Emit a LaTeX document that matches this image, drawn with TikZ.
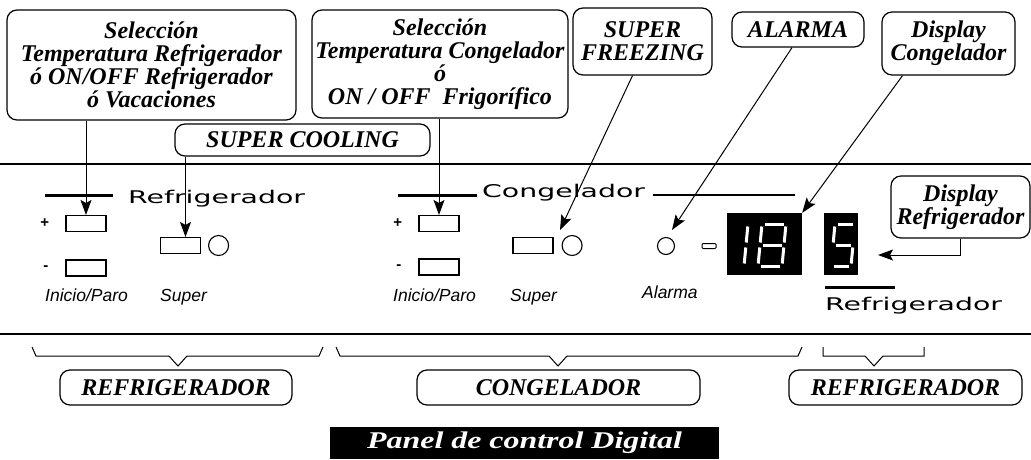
\documentclass[tikz,border=0pt]{standalone}
\usepackage{fontspec}
\usepackage{graphicx}
\setmainfont{Liberation Serif}
\newfontfamily\panelfont{DejaVu Sans}
\newfontfamily\keyfont{Liberation Sans}
\usetikzlibrary{arrows.meta,calc,positioning}

\begin{document}
\begin{tikzpicture}[x=1pt,y=-1pt,
  callout/.style={draw, line width=1.2pt, rounded corners=10pt, align=center,
    inner sep=0pt, font=\fontsize{24}{23}\selectfont\bfseries\itshape},
  key/.style={draw, line width=1.1pt, inner sep=0pt, minimum width=40pt, minimum height=16pt},
  led/.style={draw, circle, line width=1.1pt, inner sep=0pt, minimum size=20pt},
  lbl/.style={inner sep=0pt, anchor=base west, font=\keyfont\itshape\fontsize{17.5}{18}\selectfont},
  sign/.style={inner sep=0pt, font=\keyfont\bfseries\fontsize{15}{16}\selectfont},
  zone/.style={inner sep=0pt, anchor=base west, font=\panelfont\fontsize{17.5}{18}\selectfont},
  screen/.style={fill=black, inner sep=0pt, minimum height=62pt},
  arr/.style={line width=1pt, -{Stealth[length=15pt,width=11pt,inset=3pt]}},
  seg/.style={white, line width=3pt, shorten <=2.5pt, shorten >=2.5pt},
  bar/.style={line width=3pt}]
  \useasboundingbox (0,0) rectangle (1031,459);

  % callouts on top
  \node[callout, minimum width=289pt, minimum height=110pt] (selref) at (151.5,65)
    {Selección\\Temperatura Refrigerador\\ó ON/OFF Refrigerador\\ó Vacaciones};
  \node[callout, minimum width=256pt, minimum height=108pt] (selcon) at (440,64)
    {Selección\\Temperatura Congelador\\ó\\ON / OFF~ Frigorífico};
  \node[callout, minimum width=139pt, minimum height=67pt] (freezing) at (642.5,41.5)
    {SUPER\\FREEZING};
  \node[callout, minimum width=132pt, minimum height=35pt] (alarm) at (798,29.5) {ALARMA};
  \node[callout, minimum width=133pt, minimum height=63pt] (dispcon) at (948.5,43.5)
    {Display\\Congelador};
  \node[callout, minimum width=255pt, minimum height=32pt] (cooling) at (302.5,140)
    {SUPER COOLING};
  \node[callout, minimum width=139pt, minimum height=62pt] (dispref) at (960.5,207)
    {Display\\Refrigerador};

  % panel
  \draw[line width=1.8pt] (0,164) -- (1031,164);
  \draw[line width=1.8pt] (0,334) -- (1031,334);
  \draw[bar] (45,195) -- (113,195);
  \node[zone] (refzone) at (128,203) {\scalebox{1.62}[1]{Refrigerador}};
  \draw[bar] (398,195) -- (477,195);
  \node[zone] (conzone) at (482,197) {\scalebox{1.62}[1]{Congelador}};
  \draw[line width=2pt] (653,195) -- (795,195);
  \draw[bar] (825,287) -- (895,287);
  \node[zone] (refzone2) at (825,310) {\scalebox{1.62}[1]{Refrigerador}};

  \node[key] (refplus) at (86,223.5) {};
  \node[key] (refminus) at (86,268) {};
  \node[sign, left=16pt of refplus] {+};
  \node[sign, left=17pt of refminus] {-};
  \node[key] (refsuper) at (180.5,245.5) {};
  \node[led, right=7pt of refsuper] (refsuperled) {};
  \node[lbl] at (45,301) {Inicio/Paro};
  \node[lbl] at (160,301) {Super};

  \node[key] (conplus) at (439,223.5) {};
  \node[key] (conminus) at (439,267) {};
  \node[sign, left=16pt of conplus] {+};
  \node[sign, left=17pt of conminus] {-};
  \node[key] (consuper) at (533,245.5) {};
  \node[led, right=8pt of consuper] (consuperled) {};
  \node[lbl] at (393,301) {Inicio/Paro};
  \node[lbl] at (510,301) {Super};

  \node[led, minimum size=17pt] (alarmled) at (666,246) {};
  \node[draw, line width=1pt, rounded corners=1pt, inner sep=0pt,
    minimum width=14pt, minimum height=5pt] (alarmlamp) at (709,246) {};
  \node[lbl] at (642,298) {Alarma};

  \node[screen, minimum width=75pt] (disp18) at (764.5,244) {};
  \node[screen, minimum width=34pt] (disp5) at (841,244) {};
  \foreach \xa/\ya/\xb/\yb in {748/224/746/245, 746/245/744/266,
      762/224/786/224, 786/224/784/245, 784/245/782/266, 758/266/782/266,
      760/245/758/266, 762/224/760/245, 760/245/784/245,
      835/224/855/224, 835/224/833/245, 833/245/853/245, 853/245/851/266,
      831/266/851/266}
    \draw[seg] (\xa,\ya) -- (\xb,\yb);

  % arrows
  \coordinate (cooltip) at ([xshift=5pt]refsuper.north);
  \coordinate (freezetip) at (560,230);
  \coordinate (alarmtip) at (672,230);
  \coordinate (reftip) at (878,255);
  \draw[arr] (refplus.north |- selref.south) -- (refplus.north);
  \draw[arr] (cooling.south -| cooltip) -- (cooltip);
  \draw[arr] (conplus.north |- selcon.south) -- (conplus.north);
  \draw[arr] ([xshift=-10pt]freezing.south) -- (freezetip);
  \draw[arr] ([xshift=-6pt]alarm.south) -- (alarmtip);
  \draw[arr] ([xshift=-46pt]dispcon.south) -- (disp18.north east);
  \draw[arr] (dispref.south) |- (reftip);

  % groups below
  \foreach \l/\r/\t/\s in {32/323/178/4, 336/802/558/4, 823/924/874/0}
    \draw[line width=1pt] (\l,347) -- (\l+\s,356) -- (\t-9,356) -- (\t,366)
      -- (\t+9,356) -- (\r-\s,356) -- (\r,347);
  \node[callout, minimum width=232pt, minimum height=35pt] (grpref) at (176,387.5) {REFRIGERADOR};
  \node[callout, minimum width=283pt, minimum height=35pt] (grpcon) at (558.5,387.5) {CONGELADOR};
  \node[callout, minimum width=233pt, minimum height=35pt] (grpref2) at (905.5,387.5) {REFRIGERADOR};

  \node[fill=black, text=white, inner sep=0pt, minimum width=389pt, minimum height=32pt,
    font=\fontsize{24}{23}\selectfont\bfseries\itshape] (panel) at (524.5,443)
    {\scalebox{1.33}[1]{Panel de control Digital}};
\end{tikzpicture}
\end{document}
